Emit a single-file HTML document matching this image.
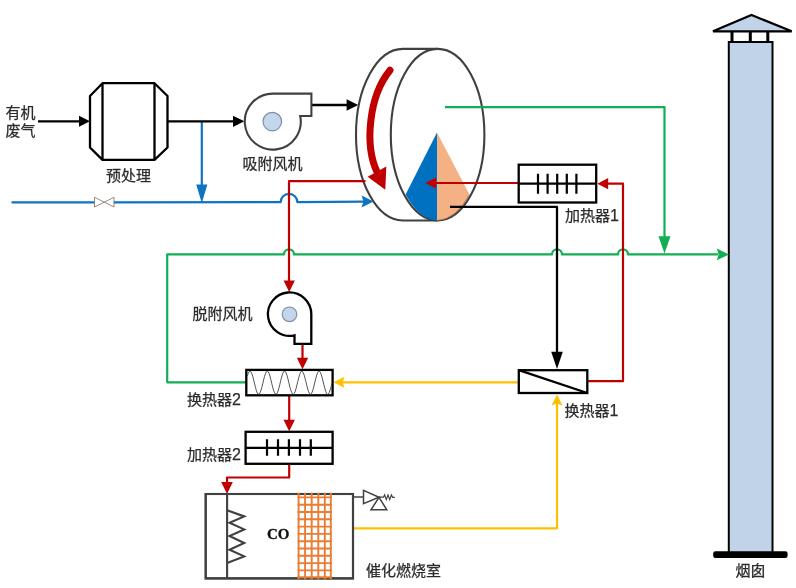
<!DOCTYPE html>
<html lang="zh-CN">
<head>
<meta charset="utf-8">
<title>沸石转轮 + 催化燃烧 工艺流程图</title>
<style>
  html, body { margin: 0; padding: 0; background: #ffffff; }
  body { width: 796px; height: 588px; overflow: hidden; }
  svg { display: block; will-change: transform; }
  .lbl { font-family: "Liberation Sans", "Noto Sans CJK SC", sans-serif; font-size: 15px; fill: #2b2b2b; stroke: #2b2b2b; stroke-width: 0.25px; }
  .dg { font-size: 16px; }
  .co { font-family: "Liberation Serif", serif; font-weight: bold; font-size: 15px; fill: #111; stroke: #111; stroke-width: 0.3px; }
  .k  { stroke: #000; fill: none; stroke-width: 2.3; }
  .g  { stroke: #404040; fill: none; stroke-width: 2.1; }
  .bl { stroke: #0f73c1; fill: none; stroke-width: 2.2; stroke-linejoin: round; }
  .rd { stroke: #c00000; fill: none; stroke-width: 2.2; stroke-linejoin: round; }
  .gr { stroke: #12ae54; fill: none; stroke-width: 2.2; stroke-linejoin: round; }
  .yl { stroke: #ffc000; fill: none; stroke-width: 2.2; stroke-linejoin: round; }
</style>
</head>
<body>
<svg width="796" height="588" viewBox="0 0 796 588">
  <rect x="0" y="0" width="796" height="588" fill="#ffffff"/>

  <!-- ===== chimney ===== -->
  <g id="chimney">
    <rect x="728.8" y="42" width="43.7" height="511" fill="#c1d3e8" stroke="#000" stroke-width="2"/>
    <path d="M732 31V42M750.3 31V42M767.8 31V42" stroke="#000" stroke-width="3" fill="none"/>
    <path d="M713 31.3L751.5 15L791.7 31.3Z" fill="#c1d3e8" stroke="#000" stroke-width="2.2" stroke-linejoin="miter"/>
    <rect x="713.2" y="551.2" width="74.4" height="6.7" rx="2.2" fill="#000"/>
  </g>

  <!-- ===== rotor ===== -->
  <g id="rotor">
    <path class="g" d="M437.6 48.9H402.8A46.8 85.8 0 0 0 402.8 220.5H437.6" fill="#fff"/>
    <ellipse class="g" cx="437.6" cy="134.7" rx="46.8" ry="85.8" fill="#fff"/>
    <path d="M437 132.5L405.6 194.5A46.8 85.8 0 0 0 437 220.6Z" fill="#0070c0"/>
    <path d="M437 132.5L469.4 194.5A46.8 85.8 0 0 1 437 220.6Z" fill="#f4b183"/>
    <path d="M469.4 194.5A46.8 85.8 0 0 1 437.6 220.5" stroke="#6b4a33" stroke-width="1" fill="none" opacity="0.55"/>
    <path d="M390 70.3C369 96 364 145 377.5 173" stroke="#c00000" stroke-width="7" stroke-linecap="round" fill="none"/>
    <path d="M367.6 176.8L386.3 166.6L385.3 189.8Z" fill="#c00000"/>
  </g>

  <!-- ===== green lines ===== -->
  <g id="green">
    <path class="gr" d="M445 107.2H664.5V240"/>
    <path d="M664.5 253.5L658.5 236.3H670.5Z" fill="#12ae54"/>
    <path class="gr" d="M246 382.3H167.2V254.4H284A5 5 0 0 1 294 254.4H552A5 5 0 0 1 562 254.4H618A5 5 0 0 1 628 254.4H718"/>
    <path d="M729 254.4L716.8 248.6L718.6 254.4L716.8 260.2Z" fill="#12ae54"/>
  </g>

  <!-- ===== blue lines ===== -->
  <g id="blue">
    <path class="bl" d="M11.5 202.3H94.5M114 202.3L280.7 202.1A8.3 8.3 0 0 1 297.3 202.1L364 201.6"/>
    <path d="M373.6 201.5L361.6 195.6L363.4 201.5L361.6 207.4Z" fill="#0f73c1"/>
    <path class="bl" d="M201.8 121V188"/>
    <path d="M201.8 203L196.2 184.5H207.4Z" fill="#0f73c1"/>
    <path d="M94.5 197.3V207L114 197.3V207Z" fill="#fff" stroke="#7f6a5a" stroke-width="0.8" stroke-linejoin="round"/>
  </g>

  <!-- ===== black lines ===== -->
  <g id="black">
    <path class="k" d="M38 121.3H82"/>
    <path d="M90 121.3L79 115.8V126.8Z" fill="#000"/>
    <path class="k" d="M167.5 121.3H236"/>
    <path d="M244.3 121.3L233 115.7V126.9Z" fill="#000"/>
    <path class="k" d="M312 105H350"/>
    <path d="M358.2 105L346.6 99.3V110.7Z" fill="#000"/>
    <path class="k" d="M450 206.9H557V355" stroke-linejoin="round"/>
    <path d="M557 369L551.2 351.8H562.8Z" fill="#000"/>
  </g>

  <!-- ===== yellow lines ===== -->
  <g id="yellow">
    <path class="yl" d="M353 528.3H557V403"/>
    <path d="M557 394.5L551.5 405.5L557 403.5L562.5 405.5Z" fill="#ffc000"/>
    <path class="yl" d="M518 382.3H342"/>
    <path d="M333.5 382.3L344.5 376.8L342.5 382.3L344.5 387.8Z" fill="#ffc000"/>
  </g>

  <!-- ===== red lines ===== -->
  <g id="red">
    <path class="rd" d="M365.5 181.2H289V283"/>
    <path d="M289.2 292L283.5 280.5H294.9Z" fill="#c00000"/>
    <path class="rd" d="M302.5 344V360"/>
    <path d="M302.5 369.3L296.8 357.8H308.2Z" fill="#c00000"/>
    <path class="rd" d="M289.2 396V422"/>
    <path d="M289.2 431.3L283.5 419.8H294.9Z" fill="#c00000"/>
    <path class="rd" d="M289.2 464V477.5H227V485"/>
    <path d="M227 494L221.2 482H232.8Z" fill="#c00000"/>
    <path class="rd" d="M588 381.2H623V183.7H606"/>
    <path d="M597.3 183.7L608.2 178.1V189.3Z" fill="#c00000"/>
    <path class="rd" d="M518 183H434"/>
    <path d="M425.3 183L436 177.6V188.4Z" fill="#c00000"/>
  </g>

  <!-- ===== pretreatment ===== -->
  <g id="pre">
    <path class="k" d="M102.5 83.2H154.5L167.5 96V147.5L154.5 159.9H102.5L90 147.5V96Z" fill="#fff" stroke-linejoin="round"/>
    <path class="k" d="M102.5 83.2V159.9M154.5 83.2V159.9"/>
  </g>

  <!-- ===== adsorption fan ===== -->
  <g id="fan1">
    <path class="g" d="M272.7 93.6H311.4V116H300.2A28 28 0 1 1 272.7 93.6Z" fill="#fff"/>
    <circle cx="272.3" cy="121.6" r="9.3" fill="#c3d6ec" stroke="#7f8fa8" stroke-width="1.2"/>
  </g>

  <!-- ===== desorption fan ===== -->
  <g id="fan2">
    <path class="k" d="M311.3 314.3V343.8H294.5V335.3A21.7 21.7 0 1 1 311.3 314.3Z" fill="#fff"/>
    <circle cx="289.5" cy="314.3" r="7.3" fill="#c3d6ec" stroke="#7f8fa8" stroke-width="1.2"/>
  </g>

  <!-- ===== heater 1 ===== -->
  <g id="heater1">
    <rect class="k" x="518.7" y="164.7" width="77.5" height="37.8" fill="#fff" stroke-width="2.1"/>
    <path d="M518.3 183.7H596.3" stroke="#000" stroke-width="2.2" fill="none"/>
    <path d="M538 173.8V193.8M547.6 173.8V193.8M557.2 173.8V193.8M566.8 173.8V193.8M576.4 173.8V193.8" stroke="#000" stroke-width="2.2" fill="none"/>
  </g>

  <!-- ===== heat exchanger 1 ===== -->
  <g id="hx1">
    <rect class="k" x="518.8" y="370.2" width="68.5" height="22.8" fill="#fff"/>
    <path class="k" d="M518.8 370.2L587.3 393"/>
  </g>

  <!-- ===== heat exchanger 2 ===== -->
  <g id="hx2">
    <rect class="k" x="246.3" y="369.9" width="86.3" height="25.4" fill="#fff"/>
    <path d="M247.4 375.9L248.3 373.2L249.2 371.6L250.1 371.1L251.0 371.9L251.9 373.8L252.8 376.6L253.7 380.1L254.6 383.9L255.5 387.5L256.4 390.7L257.3 393.0L258.2 394.2L259.1 394.1L260.0 392.9L260.9 390.6L261.8 387.4L262.7 383.8L263.6 380.0L264.5 376.5L265.4 373.7L266.3 371.8L267.2 371.1L268.1 371.6L269.0 373.3L269.9 376.0L270.8 379.4L271.7 383.2L272.6 386.9L273.5 390.1L274.4 392.6L275.3 394.0L276.2 394.2L277.1 393.2L278.0 391.1L278.9 388.1L279.8 384.5L280.7 380.7L281.6 377.1L282.5 374.2L283.4 372.1L284.3 371.1L285.2 371.4L286.1 372.9L287.0 375.4L287.9 378.7L288.8 382.5L289.7 386.2L290.6 389.6L291.5 392.2L292.4 393.8L293.3 394.3L294.2 393.5L295.1 391.6L296.0 388.7L296.9 385.2L297.8 381.4L298.7 377.8L299.6 374.7L300.5 372.4L301.4 371.2L302.3 371.3L303.2 372.6L304.1 374.9L305.0 378.1L305.9 381.7L306.8 385.5L307.7 389.0L308.6 391.8L309.5 393.6L310.4 394.3L311.3 393.7L312.2 392.0L313.1 389.3L314.0 385.9L314.9 382.1L315.8 378.4L316.7 375.2L317.6 372.7L318.5 371.4L319.4 371.2L320.3 372.2L321.2 374.4L322.1 377.4L323.0 381.0L323.9 384.8L324.8 388.4L325.7 391.3L326.6 393.4L327.5 394.3L328.4 393.9L329.3 392.4L330.2 389.9L331.1 386.6L332.0 382.8" stroke="#404040" stroke-width="0.9" fill="none" stroke-linejoin="round"/>
  </g>

  <!-- ===== heater 2 ===== -->
  <g id="heater2">
    <rect class="k" x="245.6" y="431.8" width="87" height="32" fill="#fff"/>
    <path d="M245.6 447.8H332.6" stroke="#000" stroke-width="2.2" fill="none"/>
    <path d="M267 439.3V455.8M278 439.3V455.8M288.9 439.3V455.8M300 439.3V455.8M310.8 439.3V455.8" stroke="#000" stroke-width="2.2" fill="none"/>
  </g>

  <!-- ===== catalytic combustion chamber ===== -->
  <g id="chamber">
    <rect class="g" x="205.7" y="494" width="147.3" height="84.4" fill="#fff"/>
    <path class="g" d="M227.1 494V578.4"/>
    <path class="g" d="M227.1 510.2L244.2 516.4L229.5 522.7L244.2 529.4L229.5 536L244.2 543L229.5 549.7L244.2 556.4L227.1 563" stroke-linejoin="miter"/>
    <path class="g" d="M205.7 494H353V578.4H205.7Z"/>
    <g stroke="#e87d33" stroke-width="1.9" fill="none">
      <path d="M298.6 492.8V579.6M305.1 492.8V579.6M311.7 492.8V579.6M318.3 492.8V579.6M324.8 492.8V579.6M330.8 492.8V579.6"/>
      <path d="M297.6 497.4H331.8M297.6 504.7H331.8M297.6 512H331.8M297.6 519.3H331.8M297.6 526.6H331.8M297.6 533.9H331.8M297.6 541.2H331.8M297.6 548.5H331.8M297.6 555.8H331.8M297.6 563.1H331.8M297.6 570.4H331.8M297.6 577.2H331.8"/>
    </g>
    <!-- safety valve -->
    <g stroke="#404040" stroke-width="1.5" fill="#fff" stroke-linejoin="miter">
      <path d="M353 497H363.5" fill="none"/>
      <path d="M363.5 490.4V503.6L379 497.2Z"/>
      <path d="M379 497.4L371 509.8H386.8Z"/>
      <path d="M379 497.2H383.5L384.6 494.9L386.3 499.6L388 494.9L389.7 499.6L391.4 494.9L392.6 497.3H394.8" fill="none" stroke-width="1.2"/>
    </g>
  </g>

  <!-- ===== labels ===== -->
  <g class="lbl">
    <text x="5.5" y="118">有机</text>
    <text x="5.5" y="136">废气</text>
    <text x="106" y="181">预处理</text>
    <text x="242.5" y="169">吸附风机</text>
    <text x="192.5" y="319">脱附风机</text>
    <text x="565" y="221">加热器<tspan class="dg">1</tspan></text>
    <text x="564.5" y="416">换热器<tspan class="dg">1</tspan></text>
    <text x="186.9" y="405">换热器<tspan class="dg">2</tspan></text>
    <text x="186.9" y="460">加热器<tspan class="dg">2</tspan></text>
    <text x="366" y="576">催化燃烧室</text>
    <text x="735.5" y="576">烟囱</text>
  </g>
  <text class="co" x="267" y="539">CO</text>
</svg>
</body>
</html>
